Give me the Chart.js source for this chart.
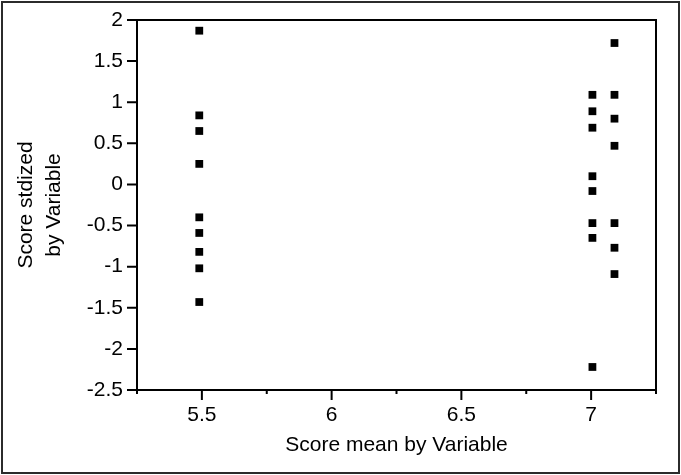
<!DOCTYPE html>
<html>
<head>
<meta charset="utf-8">
<title>Score stdized by Variable</title>
<script src="https://cdn.jsdelivr.net/npm/chart.js@4/dist/chart.umd.min.js"></script>
<style>
  html, body { margin: 0; padding: 0; background: #fff; }
  #wrap { width: 681px; height: 475px; }
</style>
</head>
<body>
<div id="wrap"><canvas id="scoreChart" width="681" height="475"></canvas></div>
<script>
// x position of each variable group (score mean)
const groupMeans = [5.49, 7.005, 7.09];

// standardized scores within each group
const scoresGroupA = [1.87, 0.84, 0.65, 0.25, -0.40, -0.59, -0.82, -1.02, -1.43];
const scoresGroupB = [1.09, 0.89, 0.69, 0.10, -0.08, -0.47, -0.65, -2.22];
const scoresGroupC = [1.72, 1.09, 0.80, 0.47, -0.47, -0.77, -1.09];

// axis ranges / tick spacing
const xRange = [5.25, 7.25];
const xStep = 0.25;
const yRange = [-2.5, 2];
const yStep = 0.5;

const allScores = [scoresGroupA, scoresGroupB, scoresGroupC];
const points = [];
allScores.forEach((list, i) => {
  list.forEach(v => points.push({ x: groupMeans[i], y: v }));
});

const isMajorX = v => Math.abs(v * 2 - Math.round(v * 2)) < 1e-9;

// frame around the plot, tick marks and the outer border
const framePlugin = {
  id: 'frame',
  afterDraw(chart) {
    const ctx = chart.ctx;
    const area = chart.chartArea;
    const xs = chart.scales.x;
    const ys = chart.scales.y;
    ctx.save();
    ctx.strokeStyle = '#000';
    ctx.lineWidth = 2;
    ctx.strokeRect(area.left, area.top, area.right - area.left, area.bottom - area.top);

    ctx.beginPath();
    xs.ticks.forEach(t => {
      const px = xs.getPixelForValue(t.value);
      const len = isMajorX(t.value) ? 10 : 4;
      ctx.moveTo(px, area.bottom);
      ctx.lineTo(px, area.bottom + len);
    });
    ys.ticks.forEach(t => {
      const py = ys.getPixelForValue(t.value);
      ctx.moveTo(area.left, py);
      ctx.lineTo(area.left - 10, py);
    });
    ctx.stroke();

    ctx.strokeStyle = '#2b2b2b';
    ctx.strokeRect(2, 2, chart.width - 4, chart.height - 4);
    ctx.restore();
  }
};

const tickFont = { family: 'Liberation Sans, Arial, sans-serif', size: 21 };
const titleFont = { family: 'Liberation Sans, Arial, sans-serif', size: 21 };

new Chart(document.getElementById('scoreChart'), {
  type: 'scatter',
  data: {
    datasets: [{
      data: points,
      pointStyle: 'rect',
      pointRadius: 5.5,
      pointHoverRadius: 5.5,
      borderWidth: 0,
      backgroundColor: '#000',
      borderColor: '#000'
    }]
  },
  options: {
    responsive: false,
    animation: false,
    events: [],
    layout: { padding: { top: 20, right: 25, left: 0, bottom: 0 } },
    plugins: {
      legend: { display: false },
      tooltip: { enabled: false }
    },
    scales: {
      x: {
        type: 'linear',
        min: xRange[0],
        max: xRange[1],
        grid: { display: false, drawTicks: true, tickLength: 10 },
        border: { display: false },
        ticks: {
          stepSize: xStep,
          autoSkip: false,
          maxRotation: 0,
          padding: 3,
          color: '#000',
          font: tickFont,
          callback: v => isMajorX(v) ? String(v) : ''
        },
        title: {
          display: true,
          text: 'Score mean by Variable',
          color: '#000',
          font: titleFont,
          padding: { top: 0, bottom: 17 }
        },
        afterFit(scale) { scale.height = 85; }
      },
      y: {
        type: 'linear',
        min: yRange[0],
        max: yRange[1],
        grid: { display: false, drawTicks: true, tickLength: 10 },
        border: { display: false },
        ticks: {
          stepSize: yStep,
          autoSkip: false,
          padding: 4,
          color: '#000',
          font: tickFont,
          callback: v => String(v)
        },
        title: {
          display: true,
          text: ['Score stdized', 'by Variable'],
          color: '#000',
          font: { ...titleFont, lineHeight: 1.33 },
          padding: { top: 12, bottom: 0 }
        },
        afterFit(scale) { scale.width = 137; }
      }
    }
  },
  plugins: [framePlugin]
});
</script>
</body>
</html>
